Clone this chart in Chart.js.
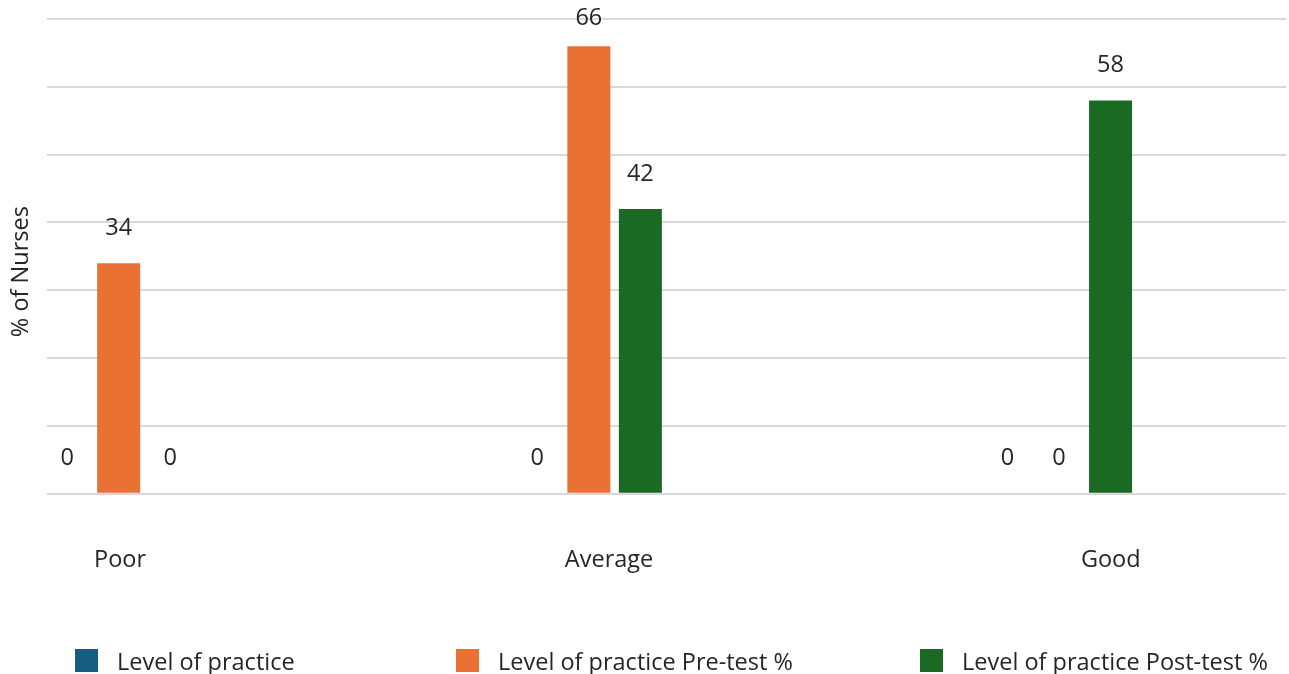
<!DOCTYPE html>
<html>
<head>
<meta charset="utf-8">
<title>Level of practice</title>
<script src="https://cdn.jsdelivr.net/npm/chart.js@4.4.1/dist/chart.umd.min.js"></script>
<style>
  body { margin: 0; background: #fff; }
  #wrap { position: relative; width: 1289px; height: 674px; }
  #legend { position: absolute; left: 0; top: 649px; width: 100%; height: 23px;
            font: 23.5px 'Open Sans', sans-serif; color: #262626; }
  .item { position: absolute; top: 0; height: 23px; display: flex; align-items: center; white-space: nowrap; }
  .box { width: 23px; height: 23px; margin-right: 19px; }
</style>
</head>
<body>
<div id="wrap">
  <canvas id="practice-chart"></canvas>
  <div id="legend"></div>
</div>
<script>
const categories = ['Poor', 'Average', 'Good'];
const seriesNames = ['Level of practice', 'Level of practice Pre-test %', 'Level of practice Post-test %'];
const levelOfPractice = [0, 0, 0];
const preTest = [34, 66, 0];
const postTest = [0, 42, 58];
const yTicks = [0, 10, 20, 30, 40, 50, 60, 70];

const colors = ['#165E80', '#E87133', '#1B6A24'];
const textColor = '#262626';
const fontFamily = "'Open Sans', sans-serif";

// category labels sit a little off the group centres in the original
const labelSpots = [0.003, 1.043, 2.11];
const legendLeft = [75, 456, 920];

Chart.defaults.font.family = fontFamily;
Chart.defaults.font.size = 23.5;
Chart.defaults.color = textColor;

const toPoints = arr => arr.map((v, i) => ({ x: i, y: v }));

// numbers above each bar (kept inside the canvas at the top)
const valueLabels = {
    id: 'valueLabels',
    afterDatasetsDraw(chart) {
        const ctx = chart.ctx;
        ctx.save();
        ctx.font = "23.5px " + fontFamily;
        ctx.fillStyle = textColor;
        ctx.textAlign = 'center';
        ctx.textBaseline = 'middle';
        chart.data.datasets.forEach((ds, i) => {
            chart.getDatasetMeta(i).data.forEach((bar, j) => {
                ctx.fillText(ds.data[j].y, bar.x, Math.max(bar.y - 35, 18));
            });
        });
        ctx.restore();
    }
};

const seriesData = [levelOfPractice, preTest, postTest];

const ctx = document.getElementById('practice-chart').getContext('2d');
const practiceChart = new Chart(ctx, {
    type: 'bar',
    data: {
        datasets: seriesNames.map((name, i) => ({
            label: name,
            data: toPoints(seriesData[i]),
            backgroundColor: colors[i],
            borderWidth: 0,
            categoryPercentage: 0.3287,
            barPercentage: 0.835
        }))
    },
    options: {
        responsive: true,
        maintainAspectRatio: false,
        animation: false,
        devicePixelRatio: 1,
        layout: { padding: { left: 3, right: 3, top: 19, bottom: 48 } },
        plugins: {
            legend: { display: false },
            tooltip: { enabled: false }
        },
        scales: {
            x: {
                type: 'linear',
                offset: false,
                bounds: 'data',
                min: -0.152,
                max: 2.4827,
                grid: { display: false, drawTicks: false },
                border: { display: false },
                afterBuildTicks: scale => {
                    scale.ticks = labelSpots.map(v => ({ value: v }));
                },
                ticks: {
                    padding: 52,
                    maxRotation: 0,
                    autoSkip: false,
                    callback: (value, index) => categories[index]
                }
            },
            y: {
                min: yTicks[0],
                max: yTicks[yTicks.length - 1],
                afterBuildTicks: scale => {
                    scale.ticks = yTicks.map(v => ({ value: v }));
                },
                grid: { color: '#d9d9d9', lineWidth: 2, drawTicks: false },
                border: { display: false },
                ticks: { display: false },
                title: {
                    display: true,
                    text: '% of Nurses\u00a0\u00a0\u00a0\u00a0\u00a0',
                    padding: { top: 4, bottom: 12 }
                }
            }
        }
    },
    plugins: [valueLabels]
});

// legend built from the same series names and colours
const legendEl = document.getElementById('legend');
seriesNames.forEach((name, i) => {
    const item = document.createElement('div');
    item.className = 'item';
    item.style.left = legendLeft[i] + 'px';
    const box = document.createElement('span');
    box.className = 'box';
    box.style.background = colors[i];
    const label = document.createElement('span');
    label.textContent = name;
    item.appendChild(box);
    item.appendChild(label);
    legendEl.appendChild(item);
});
</script>
</body>
</html>
